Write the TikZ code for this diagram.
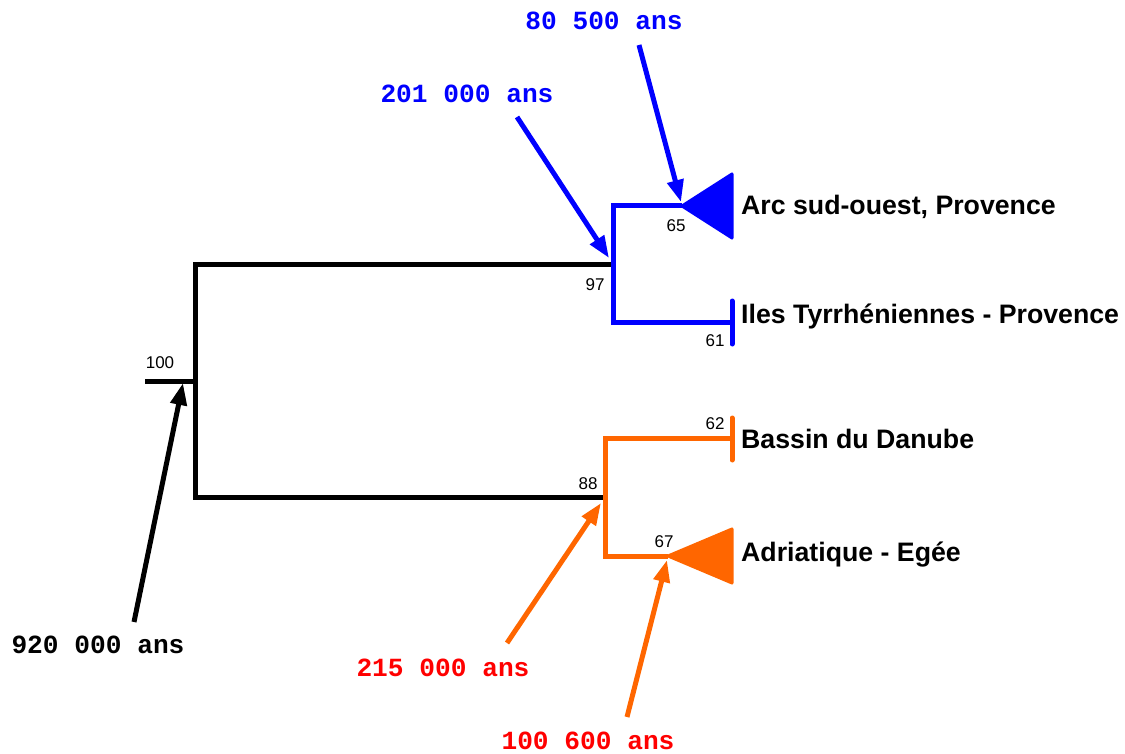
\documentclass[tikz,border=0pt]{standalone}
\usepackage{fontspec}
\setmainfont{Liberation Sans}
\newfontfamily\monofont{Liberation Mono}
\usetikzlibrary{arrows.meta}
\definecolor{tblue}{RGB}{0,0,255}
\definecolor{torange}{RGB}{255,102,0}
\definecolor{tred}{RGB}{255,0,0}
\begin{document}
\begin{tikzpicture}[x=1pt,y=-1pt,
  branch/.style={line width=5pt,line join=miter},
  tipbar/.style={line width=5pt,line cap=round},
  clade/.style={line width=3pt,line join=round},
  ptr/.style={line width=5pt,-{Triangle[length=22pt,width=16pt]},shorten >=0pt},
  boot/.style={font=\fontsize{17}{20}\selectfont,inner sep=0pt},
  taxon/.style={font=\bfseries\fontsize{26.7}{30}\selectfont,anchor=west,inner sep=0pt},
  age/.style={font=\monofont\bfseries\fontsize{26.2}{30}\selectfont,inner sep=0pt}]
\useasboundingbox (0,0) rectangle (1125,754);
% tree coordinates
\coordinate (r0) at (145,381);
\coordinate (r) at (195,381);
\coordinate (rt) at (195,265);
\coordinate (rb) at (195,497);
\coordinate (b) at (613,265);
\coordinate (bt) at (613,206);
\coordinate (bb) at (613,322);
\coordinate (b1) at (682,206);
\coordinate (b2) at (732,322);
\coordinate (o) at (605,497);
\coordinate (ot) at (605,438);
\coordinate (ob) at (605,556);
\coordinate (o1) at (732,438);
\coordinate (o2) at (668,556);
% black
\draw[branch] (r0) -- (r);
\draw[branch] (b) -- (rt) -- (rb) -- (o);
% blue
\draw[branch,tblue] (b1) -- (bt) -- (bb) -- (b2);
\draw[tipbar,tblue] (732,301) -- (732,344);
\filldraw[clade,tblue] (b1) -- (732,174) -- (732,238) -- cycle;
% orange
\draw[branch,torange] (o1) -- (ot) -- (ob) -- (o2);
\draw[tipbar,torange] (732,418) -- (732,460);
\filldraw[clade,torange] (o2) -- (732,529) -- (732,583) -- cycle;
% bootstrap values
\node[boot] (n100) at (160,363) {100};
\node[boot] (n97) at (595,285) {97};
\node[boot] (n65) at (676,226) {65};
\node[boot] (n61) at (715,341) {61};
\node[boot] (n62) at (715,424) {62};
\node[boot] (n88) at (588,484) {88};
\node[boot] (n67) at (664,542) {67};
% taxa
\node[taxon] (t1) at (741,207) {Arc sud-ouest, Provence};
\node[taxon] (t2) at (741,316) {Iles Tyrrhéniennes - Provence};
\node[taxon] (t3) at (741,439) {Bassin du Danube};
\node[taxon] (t4) at (741,555) {Adriatique - Egée};
% ages
\node[age] (a1) at (98,645) {920 000 ans};
\node[age,tblue] (a2) at (467,94) {201 000 ans};
\node[age,tblue] (a3) at (604,21) {80 500 ans};
\node[age,tred] (a4) at (443,668) {215 000 ans};
\node[age,tred] (a5) at (588,741) {100 600 ans};
% arrow starts and tips
\coordinate (s1) at (134,622); \coordinate (e1) at (183,383);
\coordinate (s2) at (517,117); \coordinate (e2) at (609,258);
\coordinate (s3) at (639,45);  \coordinate (e3) at (681,202);
\coordinate (s4) at (507,643); \coordinate (e4) at (601,503);
\coordinate (s5) at (627,717); \coordinate (e5) at (667,560);
\draw[ptr] (s1) -- (e1);
\draw[ptr,tblue] (s2) -- (e2);
\draw[ptr,tblue] (s3) -- (e3);
\draw[ptr,torange] (s4) -- (e4);
\draw[ptr,torange] (s5) -- (e5);
\end{tikzpicture}
\end{document}
